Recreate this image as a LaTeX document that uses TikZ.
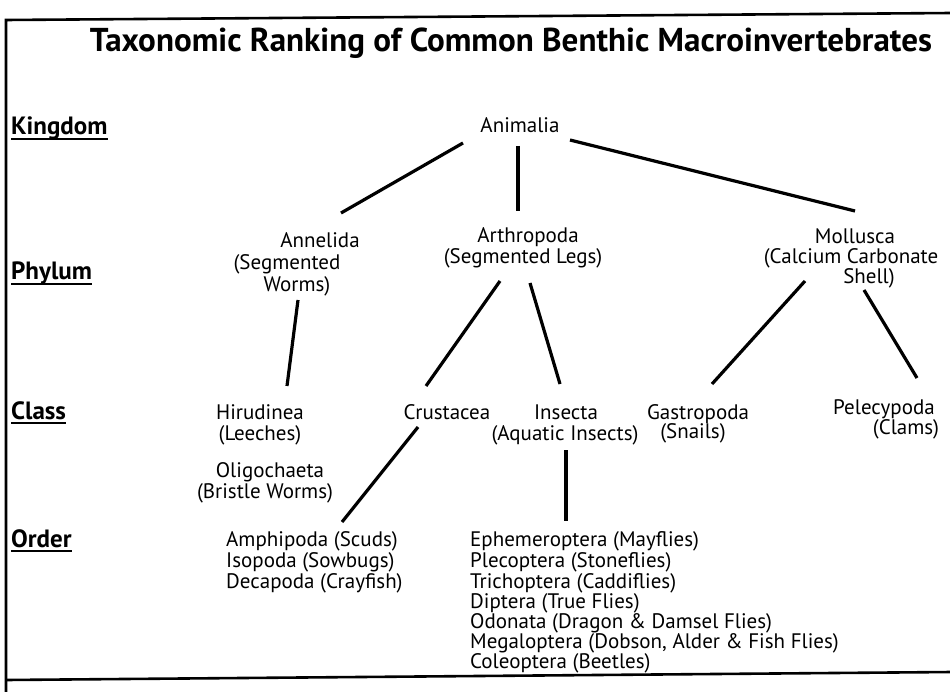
\documentclass[tikz,border=0pt]{standalone}
\usepackage{fontspec}
\setmainfont{PT Sans}
\usetikzlibrary{calc}
\begin{document}
\begin{tikzpicture}[x=1pt,y=-1pt,
  lbl/.style={anchor=base,inner sep=0pt,font=\fontsize{21}{25}\selectfont},
  lblw/.style={anchor=base west,inner sep=0pt,font=\fontsize{21}{25}\selectfont},
  rank/.style={anchor=base west,inner sep=0pt,font=\fontsize{25}{29}\selectfont\bfseries},
  conn/.style={line width=3.2pt},
  frame/.style={line width=2.6pt}]
\useasboundingbox (0,0) rectangle (950,692);
\fill[white] (0,0) rectangle (950,692);
% frame
\coordinate (ftr) at (952,13);
\coordinate (ftl) at (6,20);
\coordinate (fbl) at (6,692);
\coordinate (bl) at (6,680);
\coordinate (br) at (952,672);
\draw[frame] (ftr) -- (ftl) -- (fbl);
\draw[frame] (bl) -- (br);
% title
\node[anchor=base,inner sep=0pt] (title) at (511,52)
  {\resizebox{842pt}{!}{\bfseries Taxonomic Ranking of Common Benthic Macroinvertebrates}};
% rank labels
\node[rank] (kingdom) at (11,135) {Kingdom};
\node[rank] (phylum) at (11,280) {Phylum};
\node[rank] (class) at (11,419) {Class};
\node[rank] (order) at (11,547) {Order};
\foreach \r in {kingdom,phylum,class,order}
  \draw[line width=1.8pt] ([yshift=-4pt]\r.base west) -- ([yshift=-4pt]\r.base east);
% kingdom
\node[lbl] (animalia) at (520,133) {Animalia};
% phylum
\node[lbl] (annA) at (320,248) {Annelida};
\node[lbl] (annB) at (287,270) {(Segmented};
\node[lbl] (annC) at (297,292) {Worms)};
\node[lbl] (arthA) at (528,243) {Arthropoda};
\node[lbl] (arthB) at (523,264) {(Segmented Legs)};
\node[lbl] (molA) at (855,244) {Mollusca};
\node[lbl] (molB) at (851,264) {(Calcium Carbonate};
\node[lbl] (molC) at (869,284) {Shell)};
% class
\node[lbl] (hirA) at (260,419) {Hirudinea};
\node[lbl] (hirB) at (260,440) {(Leeches)};
\node[lbl] (oliA) at (270,477) {Oligochaeta};
\node[lbl] (oliB) at (265,498) {(Bristle Worms)};
\node[lbl] (crus) at (447,419) {Crustacea};
\node[lbl] (insA) at (566,419) {Insecta};
\node[lbl] (insB) at (565,440) {(Aquatic Insects)};
\node[lbl] (gasA) at (698,419) {Gastropoda};
\node[lbl] (gasB) at (693,438) {(Snails)};
\node[lbl] (pelA) at (884,414) {Pelecypoda};
\node[lbl] (pelB) at (906,434) {(Clams)};
% order
\node[lblw] (ordL1) at (226,546) {Amphipoda (Scuds)};
\node[lblw] (ordL2) at (226,567) {Isopoda (Sowbugs)};
\node[lblw] (ordL3) at (226,588) {Decapoda (Crayfish)};
\node[lblw] (ordR1) at (470,546) {Ephemeroptera (Mayflies)};
\node[lblw] (ordR2) at (470,567) {Plecoptera (Stoneflies)};
\node[lblw] (ordR3) at (470,588) {Trichoptera (Caddiflies)};
\node[lblw] (ordR4) at (470,608) {Diptera (True Flies)};
\node[lblw] (ordR5) at (470,628) {Odonata (Dragon \& Damsel Flies)};
\node[lblw] (ordR6) at (470,648) {Megaloptera (Dobson, Alder \& Fish Flies)};
\node[lblw] (ordR7) at (470,668) {Coleoptera (Beetles)};
% connectors
\draw[conn] ($(animalia.base)+(-57,10)$) -- ($(annA.base)+(21,-35)$);
\draw[conn] ($(animalia.base)+(-2,13)$) -- ($(arthA.base)+(-10,-32)$);
\draw[conn] ($(animalia.base)+(50,7)$) -- ($(molA.base)+(0,-33)$);
\draw[conn] ($(annC.base)+(1,8)$) -- ($(hirA.base)+(27,-33)$);
\draw[conn] ($(arthB.base)+(-23,17)$) -- ($(crus.base)+(-21,-33)$);
\draw[conn] ($(arthB.base)+(7,19)$) -- ($(insA.base)+(-6,-35)$);
\draw[conn] ($(molB.base)+(-46,17)$) -- ($(gasA.base)+(14,-35)$);
\draw[conn] ($(molC.base)+(-5,6)$) -- ($(pelA.base)+(33,-36)$);
\draw[conn] ($(crus.base)+(-29,8)$) -- ($(ordL1.base west)+(116,-24)$);
\draw[conn] ($(insB.base)+(1,10)$) -- ($(ordR1.base west)+(96,-25)$);
\end{tikzpicture}
\end{document}
